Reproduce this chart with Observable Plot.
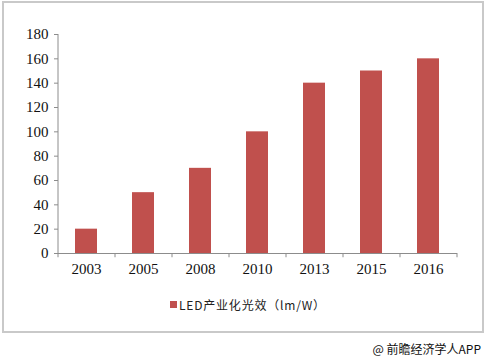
<!DOCTYPE html>
<html>
<head>
<meta charset="utf-8">
<script src="https://cdn.jsdelivr.net/npm/d3@7"></script>
<script src="https://cdn.jsdelivr.net/npm/@observablehq/plot@0.6"></script>
<style>
  html, body { margin: 0; padding: 0; background: #fff; }
  body { width: 488px; height: 361px; position: relative; overflow: hidden; }
  #box { position: absolute; left: 2px; top: 1px; width: 482px; height: 332px; border: 2px solid #c9c9c9; box-sizing: border-box; }
  #chart { position: absolute; left: 0; top: 0; }
  #legend { position: absolute; left: 170px; top: 296px; font-family: "Noto Sans CJK SC", sans-serif; font-size: 12px; letter-spacing: 0.8px; color: #222; display: flex; align-items: center; white-space: nowrap; }
  #legend .sw { width: 7px; height: 7px; background: #c0504d; margin-right: 2px; }
  #footer { position: absolute; right: 7px; top: 340px; font-family: "Noto Sans CJK SC", sans-serif; font-size: 12px; color: #111; white-space: nowrap; }
</style>
</head>
<body>
<div id="box"></div>
<div id="chart"></div>
<div id="legend"><span class="sw"></span><span id="legendText"></span></div>
<div id="footer">@ 前瞻经济学人APP</div>
<script>
const years = ["2003", "2005", "2008", "2010", "2013", "2015", "2016"];
const efficacy = [20, 50, 70, 100, 140, 150, 160];
const yTicks = [0, 20, 40, 60, 80, 100, 120, 140, 160, 180];
const seriesName = "LED产业化光效（lm/W）";
document.getElementById("legendText").textContent = seriesName;

const data = years.map((y, i) => ({year: y, value: efficacy[i]}));
const W = 488, mL = 58, mR = 31;
const halfStep = (W - mL - mR) / years.length / 2;
const serif = "Liberation Serif";

const chart = Plot.plot({
  width: W,
  height: 290,
  marginTop: 34,
  marginBottom: 37,
  marginLeft: mL,
  marginRight: mR,
  style: {color: "#000", background: "transparent"},
  x: {domain: years, paddingInner: 0.61, paddingOuter: 0.305, align: 0.5},
  y: {domain: [0, 180]},
  marks: [
    Plot.barY(data, {x: "year", y: "value", fill: "#c0504d"}),
    Plot.ruleY([0], {stroke: "#8c8c8c"}),
    Plot.ruleX([years[0]], {dx: -halfStep, y1: 0, y2: 180, stroke: "#8c8c8c"}),
    Plot.ruleX(years, {x: d => d, dx: -halfStep, y1: 0, y2: -3.5, stroke: "#8c8c8c"}),
    Plot.ruleX([years[years.length - 1]], {dx: halfStep, y1: 0, y2: -3.5, stroke: "#8c8c8c"}),
    Plot.axisY({ticks: yTicks, tickSize: 4, tickPadding: 6, stroke: "#8c8c8c", label: null, fontFamily: serif, fontSize: 15, fill: "#111"}),
    Plot.axisX({tickSize: 0, tickPadding: 10, label: null, fontFamily: serif, fontSize: 15, fill: "#111"})
  ]
});
document.getElementById("chart").appendChild(chart);
</script>
</body>
</html>
